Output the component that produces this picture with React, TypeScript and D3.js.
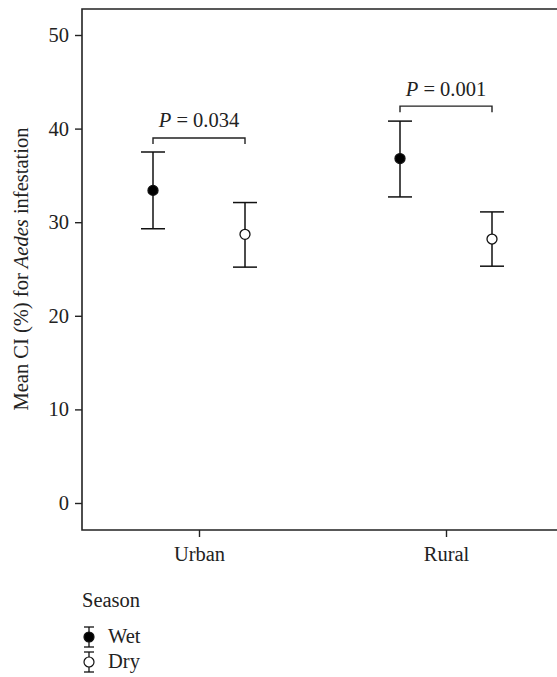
import React, { useEffect, useRef } from "react";
import * as d3 from "d3";

const areas = ["Urban", "Rural"];
const seasons = ["Wet", "Dry"];
// mean, lower and upper CI per area, per season
const wetMean = [33.4, 36.8];
const wetLow = [29.3, 32.7];
const wetHigh = [37.5, 40.8];
const dryMean = [28.7, 28.2];
const dryLow = [25.2, 25.3];
const dryHigh = [32.1, 31.1];
const pLabels = ["0.034", "0.001"];
const bracketY = [39.0, 42.4];
const yTicks = [0, 10, 20, 30, 40, 50];

const FONT = "'Liberation Serif', 'Times New Roman', serif";
const FS = "20.5px";

const App = () => {
  const ref = useRef<SVGSVGElement>(null);

  useEffect(() => {
    const svg = d3.select(ref.current);
    svg.selectAll("*").remove();

    const width = 557;
    const height = 677;
    const frame = { left: 82, top: 9, bottom: 530, right: 562 };

    const y = d3.scaleLinear().domain([0, 50]).range([503, 35]);
    const x = d3.scalePoint().domain(areas).range([199, 446]);
    const dodge = d3.scalePoint().domain(seasons).range([-46, 46]);

    const rows = areas.flatMap((a, i) => [
      { area: a, season: "Wet", mean: wetMean[i], low: wetLow[i], high: wetHigh[i] },
      { area: a, season: "Dry", mean: dryMean[i], low: dryLow[i], high: dryHigh[i] },
    ]);

    svg.attr("width", width).attr("height", height).attr("font-family", FONT);

    // frame (top, left, bottom)
    svg
      .append("path")
      .attr(
        "d",
        `M${frame.right},${frame.top}H${frame.left}V${frame.bottom}H${frame.right}`
      )
      .attr("fill", "none")
      .attr("stroke", "#222")
      .attr("stroke-width", 1.6);

    // y axis
    const yAxis = svg
      .append("g")
      .attr("transform", `translate(${frame.left},0)`)
      .call(d3.axisLeft(y).tickValues(yTicks).tickSize(7).tickPadding(6));
    yAxis.attr("font-family", FONT).attr("font-size", FS);
    yAxis.select(".domain").remove();
    yAxis.selectAll("line").attr("stroke", "#222").attr("stroke-width", 1.4);
    yAxis.selectAll("text").attr("fill", "#222");

    // x axis
    const xAxis = svg
      .append("g")
      .attr("transform", `translate(0,${frame.bottom})`)
      .call(d3.axisBottom(x).tickSize(7).tickPadding(9));
    xAxis.attr("font-family", FONT).attr("font-size", FS);
    xAxis.select(".domain").remove();
    xAxis.selectAll("line").attr("stroke", "#222").attr("stroke-width", 1.4);
    xAxis.selectAll("text").attr("fill", "#222");

    // y title
    const title = svg
      .append("text")
      .attr("transform", `translate(28,${(y(0) + y(50)) / 2}) rotate(-90)`)
      .attr("text-anchor", "middle")
      .attr("font-size", FS)
      .attr("fill", "#222");
    title.append("tspan").text("Mean CI (%) for ");
    title.append("tspan").attr("font-style", "italic").text("Aedes");
    title.append("tspan").text(" infestation");

    // error bars
    const g = svg.append("g");
    const px = (d: any) => (x(d.area) as number) + (dodge(d.season) as number);
    const capW = 12;
    rows.forEach((d) => {
      const cx = px(d);
      g.append("line")
        .attr("x1", cx).attr("x2", cx)
        .attr("y1", y(d.low)).attr("y2", y(d.high))
        .attr("stroke", "#111").attr("stroke-width", 1.5);
      [d.low, d.high].forEach((v) => {
        g.append("line")
          .attr("x1", cx - capW).attr("x2", cx + capW)
          .attr("y1", y(v)).attr("y2", y(v))
          .attr("stroke", "#111").attr("stroke-width", 1.5);
      });
      g.append("circle")
        .attr("cx", cx).attr("cy", y(d.mean)).attr("r", 5)
        .attr("fill", d.season === "Wet" ? "#000" : "#fff")
        .attr("stroke", "#111").attr("stroke-width", 1.3);
    });

    // significance brackets
    areas.forEach((a, i) => {
      const x0 = (x(a) as number) + (dodge("Wet") as number);
      const x1 = (x(a) as number) + (dodge("Dry") as number);
      const by = y(bracketY[i]);
      svg
        .append("path")
        .attr("d", `M${x0},${by + 6}V${by}H${x1}V${by + 6}`)
        .attr("fill", "none")
        .attr("stroke", "#222")
        .attr("stroke-width", 1.4);
      const t = svg
        .append("text")
        .attr("x", (x0 + x1) / 2)
        .attr("y", by - 10.5)
        .attr("text-anchor", "middle")
        .attr("font-size", FS)
        .attr("fill", "#222");
      t.append("tspan").attr("font-style", "italic").text("P");
      t.append("tspan").text(` = ${pLabels[i]}`);
    });

    // legend
    const legend = svg.append("g").attr("transform", "translate(82,0)");
    legend
      .append("text")
      .attr("x", 0)
      .attr("y", 607)
      .attr("font-size", FS)
      .attr("fill", "#222")
      .text("Season");
    seasons.forEach((s, i) => {
      const cy = 637 + i * 25;
      const k = legend.append("g").attr("transform", `translate(7,${cy})`);
      k.append("line").attr("x1", 0).attr("x2", 0).attr("y1", -10).attr("y2", 10)
        .attr("stroke", "#111").attr("stroke-width", 1.3);
      [-10, 10].forEach((v) => {
        k.append("line").attr("x1", -5).attr("x2", 5).attr("y1", v).attr("y2", v)
          .attr("stroke", "#111").attr("stroke-width", 1.3);
      });
      k.append("circle").attr("r", 5)
        .attr("fill", s === "Wet" ? "#000" : "#fff")
        .attr("stroke", "#111").attr("stroke-width", 1.2);
      legend
        .append("text")
        .attr("x", 26)
        .attr("y", cy + 6)
        .attr("font-size", FS)
        .attr("fill", "#222")
        .text(s);
    });
  }, []);

  return (
    <svg
      ref={ref}
      style={{ position: "absolute", left: 0, top: 0, background: "#fff" }}
    />
  );
};

export default App;
